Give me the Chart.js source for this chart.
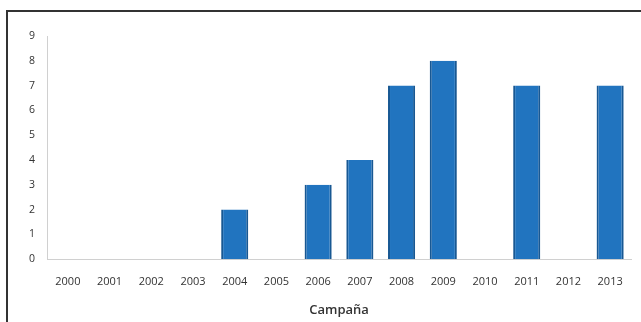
<!DOCTYPE html>
<html>
<head>
<meta charset="utf-8">
<script src="https://cdn.jsdelivr.net/npm/chart.js@4/dist/chart.umd.min.js"></script>
<style>
  html, body { margin: 0; padding: 0; background: #fff; }
  #wrap { position: relative; width: 641px; height: 322px; }
  #frame { position: absolute; left: 6px; top: 10px; right: 0; bottom: 0;
           border-left: 2px solid #333; border-top: 2px solid #333; pointer-events: none; }
</style>
</head>
<body>
<div id="wrap">
  <canvas id="campChart" width="641" height="322"></canvas>
  <div id="frame"></div>
</div>
<script>
const years = ['2000', '2001', '2002', '2003', '2004', '2005', '2006',
  '2007', '2008', '2009', '2010', '2011', '2012', '2013'];
const counts = [0, 0, 0, 0, 2, 0, 3, 4, 7, 8, 0, 7, 0, 7];
const yTicks = [0, 1, 2, 3, 4, 5, 6, 7, 8, 9];

const ctx = document.querySelector('#campChart').getContext('2d');
new Chart(ctx, {
  type: 'bar',
  data: {
    labels: years,
    datasets: [{
      data: counts,
      backgroundColor: '#2174bf',
      borderColor: '#185893',
      borderWidth: { left: 2, right: 2, top: 0, bottom: 0 },
      borderSkipped: false,
      categoryPercentage: 1,
      barPercentage: 0.65
    }]
  },
  options: {
    responsive: false,
    animation: false,
    layout: { padding: { left: 21, right: 10, top: 36, bottom: 4 } },
    plugins: { legend: { display: false }, tooltip: { enabled: false } },
    scales: {
      x: {
        grid: { display: false, drawTicks: false },
        border: { color: '#d0d0d0', width: 1 },
        ticks: { color: '#333', font: { family: 'Open Sans', size: 11 }, padding: 16 },
        title: { display: true, text: 'Campaña', color: '#333',
          font: { family: 'Open Sans', size: 13, weight: '600' }, padding: { top: -2, bottom: 0 } }
      },
      y: {
        min: 0, max: 9,
        afterBuildTicks: (axis) => { axis.ticks = yTicks.map(v => ({ value: v })); },
        grid: { display: false, drawOnChartArea: false, drawTicks: true, tickLength: 4, color: '#d0d0d0' },
        border: { color: '#d0d0d0', width: 1 },
        ticks: { color: '#333', font: { family: 'Open Sans', size: 10.5 }, padding: 8 }
      }
    }
  }
});
</script>
</body>
</html>
